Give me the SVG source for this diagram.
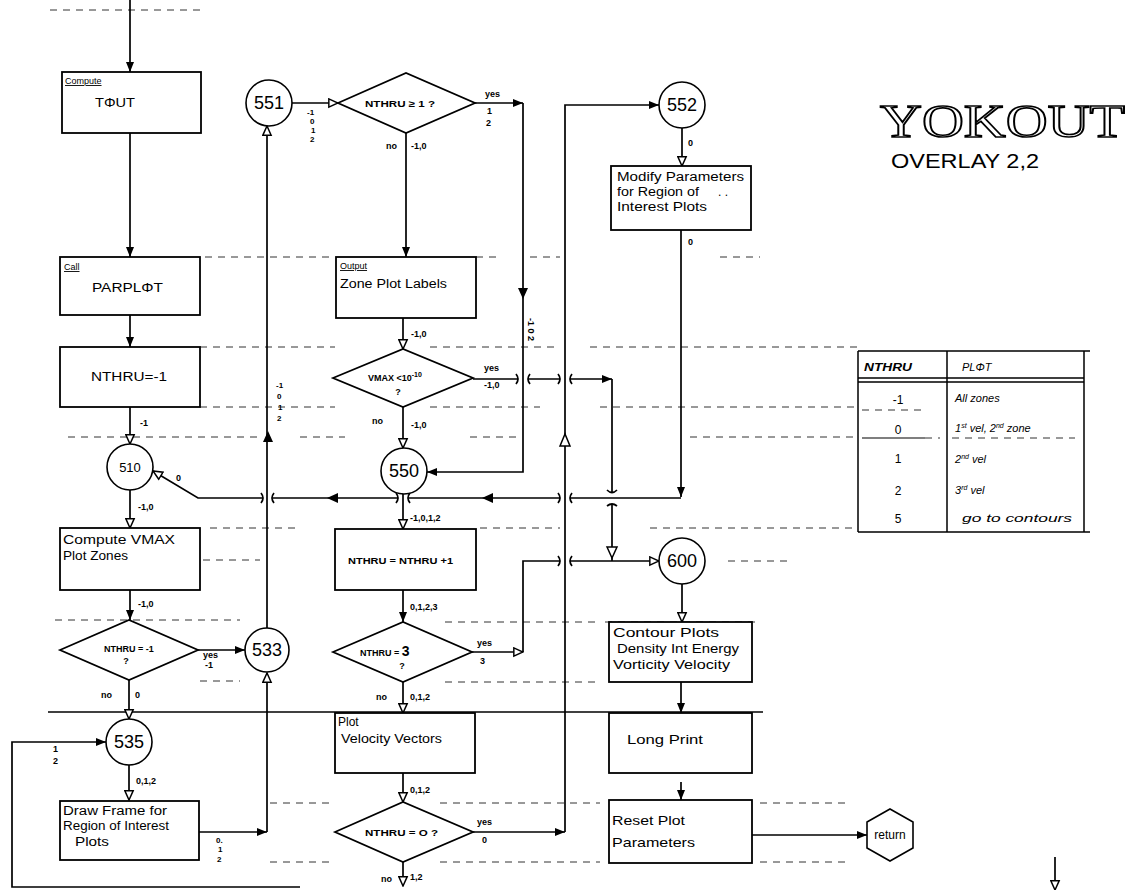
<svg xmlns="http://www.w3.org/2000/svg" width="1126" height="890" viewBox="0 0 1126 890">
<style>
.ln{stroke:#000;stroke-width:1.7;fill:none}
.bx{fill:#fff;stroke:#000;stroke-width:1.8}
.ci{fill:#fff;stroke:#000;stroke-width:1.6}
.bg{stroke:#333;stroke-width:1;fill:none;stroke-dasharray:7 6}
.lb{font-family:"Liberation Sans",Arial,sans-serif;font-size:9px;font-weight:bold;fill:#000}
.sl{font-family:"Liberation Sans",Arial,sans-serif;font-size:8px;font-weight:bold;fill:#000}
.nt{font-family:"Liberation Sans",Arial,sans-serif;font-size:12px;fill:#000}
.big{font-family:"Liberation Sans",Arial,sans-serif;font-size:18px;fill:#000}
.hd{font-family:"Liberation Sans",Arial,sans-serif;font-size:9px;fill:#000;text-decoration:underline}
.it{font-family:"Liberation Sans",Arial,sans-serif;font-size:11px;font-style:italic;fill:#000}
.hw{font-family:"Liberation Sans",Arial,sans-serif;font-size:13px;fill:#000}
</style>
<defs>
<marker id="af" markerUnits="userSpaceOnUse" markerWidth="10" markerHeight="10" viewBox="0 0 10 10" refX="10" refY="5" orient="auto"><path d="M0,1 L10,5 L0,9 z" fill="#000"/></marker>
<marker id="ao" markerUnits="userSpaceOnUse" markerWidth="11" markerHeight="11" viewBox="0 0 12 12" refX="11" refY="6" orient="auto"><path d="M1,1.5 L11,6 L1,10.5 z" fill="#fff" stroke="#000" stroke-width="1.6"/></marker>
</defs>
<rect width="1126" height="890" fill="#fff"/>

<g id="form-lines">
<path class="bg" d="M50,10 H205"/>
<path class="bg" d="M205,257 H335 M476,257 H500 M530,257 H560 M720,257 H760"/>
<path class="bg" d="M200,347 H335 M430,347 H555 M590,347 H858"/>
<path class="bg" d="M200,407 H335 M430,407 H540 M600,407 H858"/>
<path class="bg" d="M68,437 H260 M300,437 H345 M470,437 H520 M690,437 H858"/>
<path class="bg" d="M210,528 H300 M480,528 H560 M650,528 H858"/>
<path class="bg" d="M138,560 H260 M728,561 H790"/>
<path class="bg" d="M55,620 H240 M445,622 H600 M605,622 H760"/>
<path class="bg" d="M200,681 H240 M445,682 H600"/>
<path class="bg" d="M270,803 H330 M440,803 H600 M760,803 H850"/>
<path class="bg" d="M270,862 H330 M440,862 H600 M760,862 H850"/>
<path d="M48,712 H763" stroke="#000" stroke-width="1.4"/>
</g>

<g id="connectors">
<path class="ln" d="M130,0 V72" marker-end="url(#af)"/>
<path class="ln" d="M130,133 V257" marker-end="url(#af)"/>
<path class="ln" d="M130,315 V347" marker-end="url(#af)"/>
<path class="ln" d="M130,407 V444" marker-end="url(#ao)"/>
<path class="ln" d="M130,490 V528" marker-end="url(#ao)"/>
<path class="ln" d="M130,590 V620" marker-end="url(#af)"/>
<path class="ln" d="M198,650 H245" marker-end="url(#af)"/>
<path class="ln" d="M129,680 V719" marker-end="url(#ao)"/>
<path class="ln" d="M129,765 V800" marker-end="url(#ao)"/>
<path class="ln" d="M199,832 H267" marker-end="url(#af)"/>
<path class="ln" d="M267,832 V673" marker-end="url(#ao)"/>
<path class="ln" d="M267,628 V126" marker-end="url(#ao)"/>
<path d="M263,442 L268,431 L273,442 z" fill="#000"/>
<path class="ln" d="M292,103 H338" marker-end="url(#ao)"/>
<path class="ln" d="M406,133 V257" marker-end="url(#af)"/>
<path class="ln" d="M403,318 V349" marker-end="url(#ao)"/>
<path class="ln" d="M403,407 V448" marker-end="url(#ao)"/>
<path class="ln" d="M475,103 H523" marker-end="url(#af)"/>
<path class="ln" d="M523,103 V472 H427" marker-end="url(#af)"/>
<path d="M518,288 L523,299 L528,288 z" fill="#000"/>
<path class="ln" d="M473,379 H518 M528,379 H560 M570,379 H612" marker-end="url(#af)"/>
<path class="ln" d="M612,379 V492 M612,504 V561"/>
<path d="M607,547 L612,558 L617,547 z" fill="#fff" stroke="#000" stroke-width="1.5"/>
<path class="ln" d="M516,374 Q520,379 516,384 M530,374 Q526,379 530,384 M558,374 Q562,379 558,384 M572,374 Q568,379 572,384"/>
<path class="ln" d="M607,490 Q612,495 617,490 M607,506 Q612,502 617,506"/>
<path class="ln" d="M403,493 V529" marker-end="url(#ao)"/>
<path class="ln" d="M403,590 V622" marker-end="url(#af)"/>
<path class="ln" d="M472,652 H523" marker-end="url(#ao)"/>
<path class="ln" d="M523,652 V561 H560 M570,561 H659" marker-end="url(#ao)"/>
<path class="ln" d="M558,556 Q562,561 558,566 M572,556 Q568,561 572,566"/>
<path class="ln" d="M403,682 V713" marker-end="url(#ao)"/>
<path class="ln" d="M403,773 V802" marker-end="url(#ao)"/>
<path class="ln" d="M473,832 H565" marker-end="url(#af)"/>
<path class="ln" d="M565,832 V105 H659" marker-end="url(#af)"/>
<path d="M560,446 L565,434 L570,446 z" fill="#fff" stroke="#000" stroke-width="1.5"/>
<path class="ln" d="M403,862 V886" marker-end="url(#ao)"/>
<path class="ln" d="M300,887 H12 V742 H106" marker-end="url(#af)"/>
<path class="ln" d="M682,128 V166" marker-end="url(#ao)"/>
<path class="ln" d="M681,230 V497" marker-end="url(#af)"/>
<path class="ln" d="M681,498 H570 M560,498 H409 M398,498 H273 M262,498 H198 L153,471" marker-end="url(#ao)"/>
<path class="ln" d="M558,493 Q562,498 558,503 M572,493 Q568,498 572,503 M396,493 Q400,498 396,503 M410,493 Q406,498 410,503 M261,493 Q265,498 261,503 M274,493 Q270,498 274,503"/>
<path d="M493,493 L482,498 L493,503 z" fill="#000"/>
<path d="M338,493 L327,498 L338,503 z" fill="#000"/>
<path class="ln" d="M682,584 V622" marker-end="url(#ao)"/>
<path class="ln" d="M681,682 V713" marker-end="url(#af)"/>
<path class="ln" d="M681,782 V800" marker-end="url(#af)"/>
<path class="ln" d="M752,835 H867" marker-end="url(#af)"/>
<path class="ln" d="M1055,857 V890" marker-end="url(#ao)"/>
</g>

<g id="labels">
<text class="lb" x="140" y="426">-1</text>
<text class="lb" x="138" y="510">-1,0</text>
<text class="lb" x="176" y="481">0</text>
<text class="lb" x="138" y="607">-1,0</text>
<text class="lb" x="203" y="658">yes</text>
<text class="lb" x="205" y="668">-1</text>
<text class="lb" x="101" y="698">no</text>
<text class="lb" x="135" y="698">0</text>
<text class="lb" x="53" y="752">1</text>
<text class="lb" x="53" y="764">2</text>
<text class="lb" x="136" y="784">0,1,2</text>
<text class="sl" x="216" y="843">0.</text>
<text class="sl" x="218" y="852">1</text>
<text class="sl" x="217" y="862">2</text>
<text class="sl" x="276" y="388">-1</text>
<text class="sl" x="277" y="399">0</text>
<text class="sl" x="278" y="410">1</text>
<text class="sl" x="277" y="421">2</text>
<text class="sl" x="307" y="115">-1</text>
<text class="sl" x="310" y="124">0</text>
<text class="sl" x="311" y="133">1</text>
<text class="sl" x="310" y="142">2</text>
<text class="lb" x="485" y="97">yes</text>
<text class="lb" x="487" y="114">1</text>
<text class="lb" x="486" y="126">2</text>
<text class="lb" x="386" y="149">no</text>
<text class="lb" x="411" y="149">-1,0</text>
<text class="lb" x="411" y="337">-1,0</text>
<text class="lb" x="484" y="371">yes</text>
<text class="lb" x="484" y="388">-1,0</text>
<text class="lb" x="372" y="424">no</text>
<text class="lb" x="411" y="428">-1,0</text>
<text class="lb" transform="translate(528,318) rotate(90)">-1 0 2</text>
<text class="lb" x="410" y="521">-1,0,1,2</text>
<text class="lb" x="410" y="610">0,1,2,3</text>
<text class="lb" x="477" y="646">yes</text>
<text class="lb" x="480" y="664">3</text>
<text class="lb" x="376" y="700">no</text>
<text class="lb" x="410" y="700">0,1,2</text>
<text class="lb" x="410" y="793">0,1,2</text>
<text class="lb" x="477" y="825">yes</text>
<text class="lb" x="482" y="843">0</text>
<text class="lb" x="381" y="882">no</text>
<text class="lb" x="410" y="880">1,2</text>
<text class="lb" x="688" y="146">0</text>
<text class="lb" x="688" y="245">0</text>
</g>

<g id="n-tout">
<rect class="bx" x="62" y="72" width="139" height="61"/>
<text class="hd" x="65" y="84">Compute</text>
<text class="nt" x="95" y="107" font-size="13" textLength="40" lengthAdjust="spacingAndGlyphs">TΦUT</text>
</g>
<g id="n-parplot">
<rect class="bx" x="60" y="257" width="140" height="58"/>
<text class="hd" x="64" y="270">Call</text>
<text class="nt" x="92" y="292" font-size="14" textLength="71" lengthAdjust="spacingAndGlyphs">PARPLΦT</text>
</g>
<g id="n-nthru1">
<rect class="bx" x="60" y="347" width="140" height="60"/>
<text class="nt" x="91" y="381" font-size="13" textLength="76" lengthAdjust="spacingAndGlyphs">NTHRU=-1</text>
</g>
<g id="n-510">
<circle class="ci" cx="130" cy="467" r="23"/>
<text class="hw" x="130" y="472" font-size="15" text-anchor="middle">510</text>
</g>
<g id="n-compute">
<rect class="bx" x="60" y="528" width="140" height="62"/>
<text class="nt" x="63" y="544" textLength="112" lengthAdjust="spacingAndGlyphs">Compute       VMAX</text>
<text class="nt" x="63" y="560" textLength="65" lengthAdjust="spacingAndGlyphs">Plot Zones</text>
</g>
<g id="n-d1">
<path class="bx" d="M60,650 L129,620 L198,650 L129,680 z"/>
<text class="lb" x="129" y="652" text-anchor="middle">NTHRU = -1</text>
<text class="lb" x="126" y="664" text-anchor="middle">?</text>
</g>
<g id="n-533">
<circle class="ci" cx="267" cy="650" r="22"/>
<text class="big" x="267" y="656" text-anchor="middle">533</text>
</g>
<g id="n-535">
<circle class="ci" cx="129" cy="742" r="23"/>
<text class="big" x="129" y="748" text-anchor="middle">535</text>
</g>
<g id="n-drawframe">
<rect class="bx" x="60" y="801" width="139" height="59"/>
<text class="nt" x="63" y="815" textLength="104" lengthAdjust="spacingAndGlyphs">Draw Frame for</text>
<text class="nt" x="63" y="830" textLength="106" lengthAdjust="spacingAndGlyphs">Region of Interest</text>
<text class="nt" x="75" y="846" textLength="34" lengthAdjust="spacingAndGlyphs">Plots</text>
</g>
<g id="n-551">
<circle class="ci" cx="269" cy="103" r="23"/>
<text class="big" x="269" y="109" text-anchor="middle">551</text>
</g>
<g id="n-d551">
<path class="bx" d="M338,103 L406,73 L475,103 L406,133 z"/>
<text class="lb" x="365" y="107" textLength="70" lengthAdjust="spacingAndGlyphs">NTHRU ≥ 1 ?</text>
</g>
<g id="n-output">
<rect class="bx" x="336" y="257" width="140" height="61"/>
<text class="hd" x="340" y="269">Output</text>
<text class="nt" x="340" y="288" textLength="107" lengthAdjust="spacingAndGlyphs">Zone Plot Labels</text>
</g>
<g id="n-dvmax">
<path class="bx" d="M333,378 L403,349 L473,378 L403,407 z"/>
<text class="lb" x="368" y="381">VMAX &lt;10<tspan dy="-4" font-size="7">-10</tspan></text>
<text class="lb" x="398" y="395" text-anchor="middle">?</text>
</g>
<g id="n-550">
<circle class="ci" cx="404" cy="471" r="23"/>
<text class="big" x="404" y="477" text-anchor="middle">550</text>
</g>
<g id="n-incr">
<rect class="bx" x="335" y="529" width="141" height="61"/>
<text class="lb" x="348" y="564" textLength="105" lengthAdjust="spacingAndGlyphs">NTHRU = NTHRU +1</text>
</g>
<g id="n-d3">
<path class="bx" d="M333,652 L403,622 L472,652 L403,682 z"/>
<text class="lb" x="360" y="656">NTHRU = <tspan font-size="14">3</tspan></text>
<text class="lb" x="402" y="669" text-anchor="middle">?</text>
</g>
<g id="n-plotvv">
<rect class="bx" x="335" y="713" width="140" height="60"/>
<text class="nt" x="338" y="726">Plot</text>
<text class="nt" x="341" y="743" font-size="13" textLength="101" lengthAdjust="spacingAndGlyphs">Velocity Vectors</text>
</g>
<g id="n-d0">
<path class="bx" d="M335,832 L403,802 L473,832 L403,862 z"/>
<text class="lb" x="365" y="836" textLength="73" lengthAdjust="spacingAndGlyphs">NTHRU = O ?</text>
</g>
<g id="n-552">
<circle class="ci" cx="682" cy="105" r="23"/>
<text class="big" x="682" y="111" text-anchor="middle">552</text>
</g>
<g id="n-modify">
<rect class="bx" x="611" y="166" width="140" height="64"/>
<text class="nt" x="617" y="181" textLength="127" lengthAdjust="spacingAndGlyphs">Modify Parameters</text>
<text class="nt" x="617" y="196" textLength="82" lengthAdjust="spacingAndGlyphs">for Region of</text>
<text class="nt" x="718" y="196">. .</text>
<text class="nt" x="617" y="211" textLength="90" lengthAdjust="spacingAndGlyphs">Interest Plots</text>
</g>
<g id="n-600">
<circle class="ci" cx="682" cy="561" r="23"/>
<text class="big" x="682" y="567" text-anchor="middle">600</text>
</g>
<g id="n-contour">
<rect class="bx" x="609" y="622" width="143" height="60"/>
<text class="hw" x="613" y="637" font-size="14" textLength="106" lengthAdjust="spacingAndGlyphs">Contour Plots</text>
<text class="nt" x="617" y="653" textLength="122" lengthAdjust="spacingAndGlyphs">Density   Int Energy</text>
<text class="nt" x="613" y="669" textLength="117" lengthAdjust="spacingAndGlyphs">Vorticity  Velocity</text>
</g>
<g id="n-longprint">
<rect class="bx" x="609" y="713" width="143" height="60"/>
<text class="hw" x="627" y="744" textLength="76" lengthAdjust="spacingAndGlyphs">Long Print</text>
</g>
<g id="n-reset">
<rect class="bx" x="609" y="800" width="143" height="63"/>
<text class="hw" x="612" y="825" font-size="14" textLength="73" lengthAdjust="spacingAndGlyphs">Reset Plot</text>
<text class="hw" x="612" y="847" font-size="14" textLength="83" lengthAdjust="spacingAndGlyphs">Parameters</text>
</g>
<g id="n-return">
<path class="ci" d="M890,809 L913,822 L913,848 L890,861 L867,848 L867,822 z"/>
<text class="nt" x="890" y="839" text-anchor="middle" font-size="12">return</text>
</g>

<g id="title">
<text x="880" y="137" font-family="Liberation Serif,serif" font-size="46" fill="#fff" stroke="#000" stroke-width="1.6" textLength="245" lengthAdjust="spacingAndGlyphs">YOKOUT</text>
<text x="891" y="168" font-family="Liberation Sans,Arial,sans-serif" font-size="20" fill="#000" textLength="148" lengthAdjust="spacingAndGlyphs">OVERLAY  2,2</text>
</g>

<g id="table">
<path d="M858,351 H1090 M858,378 H1084 M858,382 H1084 M858,532 H1090 M858,351 V532 M947,351 V532 M1084,351 V532" stroke="#000" stroke-width="1.5" fill="none"/>
<path d="M862,438 H925" stroke="#000" stroke-width="1.2"/>
<path class="bg" d="M862,410 H925 M925,438 H940 M952,438 H1075" stroke-dasharray="3 5"/>
<text class="it" x="864" y="371" font-weight="bold" textLength="48" lengthAdjust="spacingAndGlyphs">NTHRU</text>
<text class="it" x="962" y="371">PLΦT</text>
<text class="nt" x="898" y="404" text-anchor="middle">-1</text>
<text class="nt" x="898" y="434" text-anchor="middle">0</text>
<text class="nt" x="898" y="463" text-anchor="middle">1</text>
<text class="nt" x="898" y="495" text-anchor="middle">2</text>
<text class="nt" x="898" y="523" text-anchor="middle">5</text>
<text class="it" x="955" y="402">All zones</text>
<text class="it" x="955" y="432">1<tspan dy="-4" font-size="7">st</tspan><tspan dy="4"> vel, 2</tspan><tspan dy="-4" font-size="7">nd</tspan><tspan dy="4"> zone</tspan></text>
<text class="it" x="955" y="463">2<tspan dy="-4" font-size="7">nd</tspan><tspan dy="4"> vel</tspan></text>
<text class="it" x="955" y="494">3<tspan dy="-4" font-size="7">rd</tspan><tspan dy="4"> vel</tspan></text>
<text class="it" x="962" y="522" textLength="110" lengthAdjust="spacingAndGlyphs">go to contours</text>
</g>
</svg>
